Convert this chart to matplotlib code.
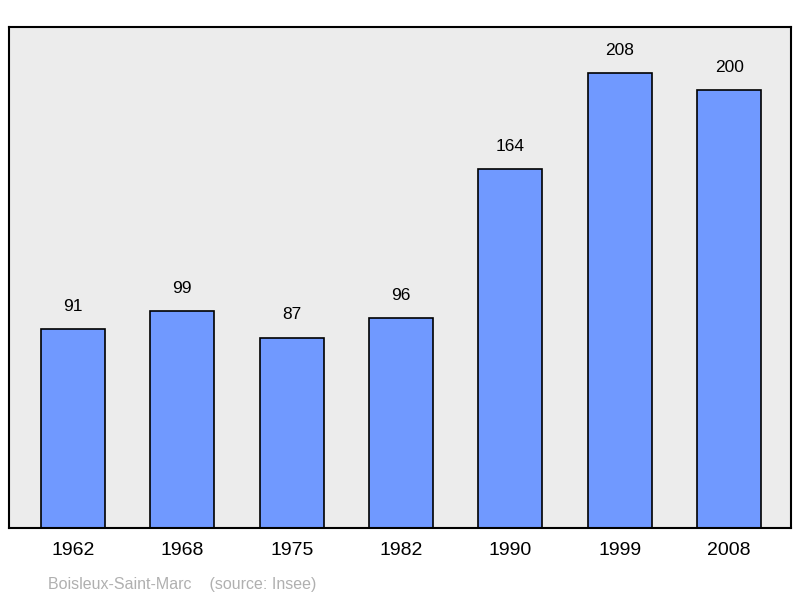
import matplotlib
matplotlib.use("Agg")
import matplotlib.pyplot as plt

years = ["1962", "1968", "1975", "1982", "1990", "1999", "2008"]
values = [91, 99, 87, 96, 164, 208, 200]

plt.rcParams['font.family'] = ['Liberation Sans', 'DejaVu Sans']
fig = plt.figure(figsize=(8, 5.98), dpi=100)
ax = fig.add_axes([9/800, 1-528/598, 782/800, 501/598])
ax.set_facecolor('#ececec')
x = range(len(years))
ax.bar(x, values, width=0.585, color='#7099ff', edgecolor='black', linewidth=1.2, zorder=2)
for i, v in zip(x, values):
    ax.text(i, v + 7, str(v), ha='center', va='bottom', fontsize=12.5)
ax.set_xlim(-0.585, 6.565)
ax.set_ylim(0, 229)
ax.set_yticks([])
ax.set_xticks(list(x))
ax.set_xticklabels(years, fontsize=14)
ax.tick_params(axis='x', length=0, pad=10)
for s in ax.spines.values():
    s.set_linewidth(1.5)
fig.text(48/800, 1-584/598, "Boisleux-Saint-Marc    (source: Insee)", fontsize=11.5, color='#b0b0b0', va='center')
fig.savefig("out.png", dpi=100)
